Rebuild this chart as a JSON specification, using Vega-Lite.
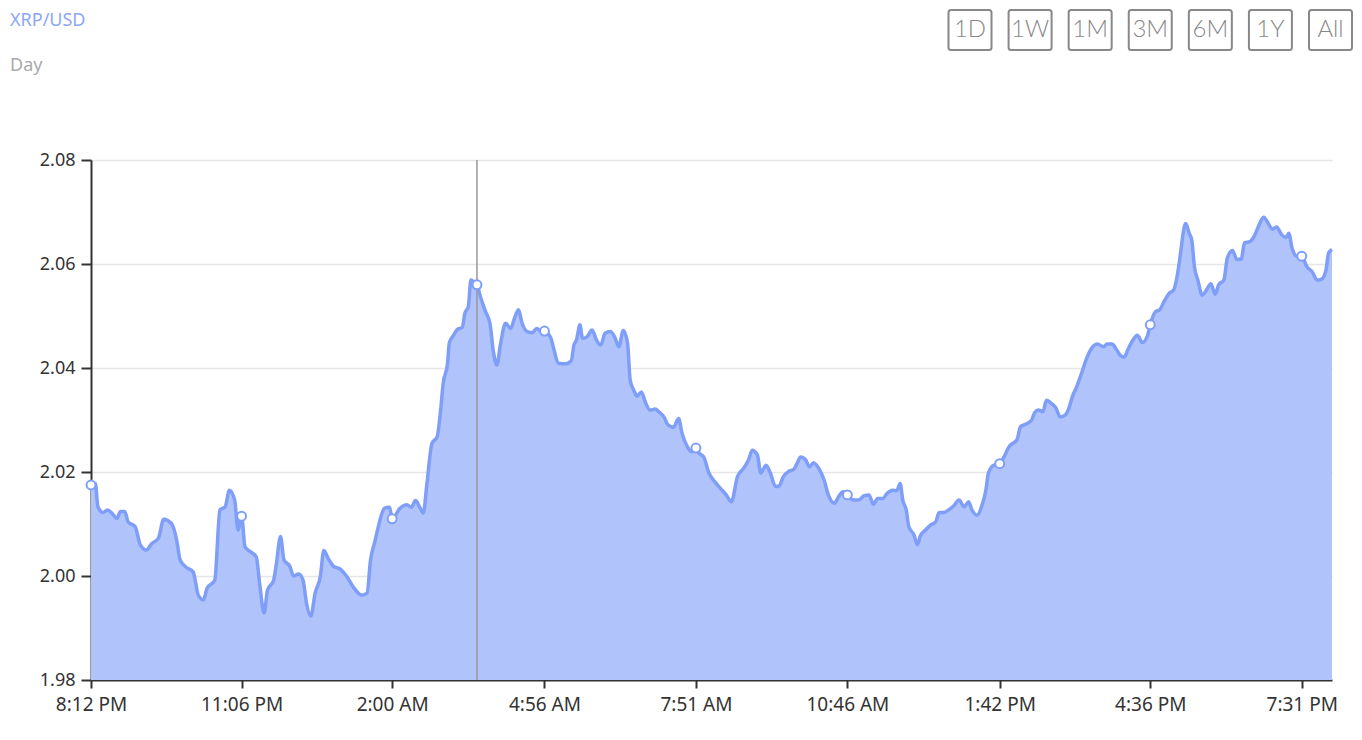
{
  "$schema": "https://vega.github.io/schema/vega-lite/v6.json",
  "width": 1241,
  "height": 520,
  "autosize": {"type": "none"},
  "padding": {"left": 91, "top": 160, "right": 30, "bottom": 60},
  "background": "white",
  "config": {"view": {"stroke": null}},
  "title": {
    "text": "XRP/USD",
    "subtitle": "Day",
    "anchor": "start",
    "frame": "group",
    "dx": -81,
    "dy": 69,
    "offset": 0,
    "font": "Noto Sans",
    "fontSize": 18,
    "fontWeight": "normal",
    "color": "#8ca6f8",
    "subtitleFont": "Noto Sans",
    "subtitleFontSize": 18,
    "subtitleColor": "#aaaaaa",
    "subtitlePadding": 27
  },
  "datasets": {
    "price": [
      {"m":0,"v":2.0175},{"m":5,"v":2.0178},{"m":8,"v":2.0133},{"m":14,"v":2.0122},{"m":19,"v":2.0127},{"m":24,"v":2.0121},{"m":30,"v":2.0111},{"m":34,"v":2.0124},{"m":39,"v":2.0124},{"m":43,"v":2.0104},{"m":51,"v":2.0095},{"m":57,"v":2.0060},{"m":64,"v":2.0050},{"m":70,"v":2.0062},{"m":78,"v":2.0073},{"m":84,"v":2.0109},{"m":93,"v":2.0101},{"m":99,"v":2.0069},{"m":103,"v":2.0031},{"m":109,"v":2.0018},{"m":118,"v":2.0008},{"m":124,"v":1.9963},{"m":130,"v":1.9954},{"m":134,"v":1.9976},{"m":143,"v":1.9992},{"m":149,"v":2.0127},{"m":155,"v":2.0133},{"m":160,"v":2.0165},{"m":166,"v":2.0146},{"m":170,"v":2.0088},{"m":174,"v":2.0115},{"m":178,"v":2.0056},{"m":184,"v":2.0047},{"m":191,"v":2.0037},{"m":195,"v":1.9983},{"m":200,"v":1.9929},{"m":204,"v":1.9973},{"m":211,"v":1.9992},{"m":214,"v":2.0021},{"m":219,"v":2.0076},{"m":223,"v":2.0031},{"m":230,"v":2.0018},{"m":234,"v":2.0000},{"m":240,"v":2.0004},{"m":245,"v":1.9992},{"m":249,"v":1.9948},{"m":254,"v":1.9923},{"m":259,"v":1.9967},{"m":265,"v":1.9999},{"m":269,"v":2.0049},{"m":274,"v":2.0034},{"m":280,"v":2.0019},{"m":288,"v":2.0013},{"m":296,"v":1.9998},{"m":303,"v":1.9979},{"m":313,"v":1.9963},{"m":319,"v":1.9967},{"m":323,"v":2.0031},{"m":328,"v":2.0066},{"m":332,"v":2.0095},{"m":339,"v":2.0130},{"m":345,"v":2.0132},{"m":348,"v":2.0110},{"m":357,"v":2.0130},{"m":365,"v":2.0137},{"m":370,"v":2.0132},{"m":375,"v":2.0145},{"m":380,"v":2.0132},{"m":384,"v":2.0121},{"m":388,"v":2.0175},{"m":394,"v":2.0255},{"m":400,"v":2.0268},{"m":404,"v":2.0319},{"m":407,"v":2.0371},{"m":412,"v":2.0409},{"m":414,"v":2.0448},{"m":419,"v":2.0463},{"m":423,"v":2.0474},{"m":429,"v":2.0478},{"m":432,"v":2.0505},{"m":436,"v":2.0518},{"m":439,"v":2.0569},{"m":442,"v":2.0566},{"m":446,"v":2.0560},{"m":450,"v":2.0537},{"m":456,"v":2.0508},{"m":461,"v":2.0486},{"m":465,"v":2.0431},{"m":469,"v":2.0406},{"m":473,"v":2.0444},{"m":479,"v":2.0486},{"m":485,"v":2.0476},{"m":489,"v":2.0494},{"m":494,"v":2.0512},{"m":498,"v":2.0487},{"m":504,"v":2.0470},{"m":510,"v":2.0468},{"m":515,"v":2.0476},{"m":519,"v":2.0472},{"m":524,"v":2.0471},{"m":531,"v":2.0459},{"m":535,"v":2.0435},{"m":540,"v":2.0409},{"m":548,"v":2.0408},{"m":555,"v":2.0414},{"m":558,"v":2.0444},{"m":561,"v":2.0454},{"m":565,"v":2.0483},{"m":568,"v":2.0457},{"m":573,"v":2.0460},{"m":579,"v":2.0473},{"m":584,"v":2.0454},{"m":589,"v":2.0444},{"m":594,"v":2.0467},{"m":600,"v":2.0470},{"m":605,"v":2.0460},{"m":610,"v":2.0441},{"m":615,"v":2.0472},{"m":620,"v":2.0448},{"m":623,"v":2.0377},{"m":627,"v":2.0358},{"m":631,"v":2.0346},{"m":636,"v":2.0354},{"m":641,"v":2.0332},{"m":646,"v":2.0319},{"m":652,"v":2.0321},{"m":656,"v":2.0316},{"m":662,"v":2.0306},{"m":667,"v":2.0290},{"m":673,"v":2.0286},{"m":679,"v":2.0303},{"m":683,"v":2.0274},{"m":689,"v":2.0249},{"m":694,"v":2.0239},{"m":699,"v":2.0246},{"m":703,"v":2.0236},{"m":708,"v":2.0229},{"m":714,"v":2.0198},{"m":721,"v":2.0181},{"m":727,"v":2.0169},{"m":734,"v":2.0156},{"m":740,"v":2.0143},{"m":747,"v":2.0191},{"m":754,"v":2.0207},{"m":760,"v":2.0224},{"m":764,"v":2.0242},{"m":770,"v":2.0233},{"m":774,"v":2.0198},{"m":780,"v":2.0213},{"m":785,"v":2.0198},{"m":791,"v":2.0172},{"m":795,"v":2.0173},{"m":800,"v":2.0191},{"m":806,"v":2.0201},{"m":812,"v":2.0205},{"m":816,"v":2.0217},{"m":820,"v":2.0229},{"m":826,"v":2.0223},{"m":830,"v":2.0210},{"m":835,"v":2.0218},{"m":841,"v":2.0207},{"m":847,"v":2.0185},{"m":852,"v":2.0156},{"m":859,"v":2.0140},{"m":864,"v":2.0153},{"m":869,"v":2.0162},{"m":874,"v":2.0156},{"m":881,"v":2.0146},{"m":887,"v":2.0146},{"m":893,"v":2.0154},{"m":899,"v":2.0156},{"m":904,"v":2.0138},{"m":909,"v":2.0149},{"m":915,"v":2.0149},{"m":920,"v":2.0159},{"m":926,"v":2.0165},{"m":931,"v":2.0164},{"m":935,"v":2.0178},{"m":938,"v":2.0146},{"m":942,"v":2.0127},{"m":945,"v":2.0095},{"m":951,"v":2.0079},{"m":955,"v":2.0060},{"m":958,"v":2.0076},{"m":964,"v":2.0088},{"m":970,"v":2.0098},{"m":976,"v":2.0104},{"m":980,"v":2.0122},{"m":985,"v":2.0122},{"m":991,"v":2.0127},{"m":997,"v":2.0135},{"m":1003,"v":2.0146},{"m":1009,"v":2.0133},{"m":1014,"v":2.0143},{"m":1018,"v":2.0127},{"m":1024,"v":2.0117},{"m":1029,"v":2.0133},{"m":1034,"v":2.0165},{"m":1037,"v":2.0198},{"m":1043,"v":2.0213},{"m":1050,"v":2.0216},{"m":1055,"v":2.0229},{"m":1061,"v":2.0249},{"m":1065,"v":2.0255},{"m":1070,"v":2.0262},{"m":1074,"v":2.0287},{"m":1080,"v":2.0292},{"m":1087,"v":2.0300},{"m":1090,"v":2.0313},{"m":1095,"v":2.0319},{"m":1100,"v":2.0316},{"m":1104,"v":2.0338},{"m":1109,"v":2.0333},{"m":1115,"v":2.0323},{"m":1120,"v":2.0306},{"m":1126,"v":2.0310},{"m":1130,"v":2.0323},{"m":1134,"v":2.0345},{"m":1139,"v":2.0364},{"m":1144,"v":2.0387},{"m":1149,"v":2.0412},{"m":1155,"v":2.0435},{"m":1163,"v":2.0446},{"m":1170,"v":2.0441},{"m":1174,"v":2.0446},{"m":1180,"v":2.0446},{"m":1184,"v":2.0438},{"m":1189,"v":2.0425},{"m":1194,"v":2.0421},{"m":1198,"v":2.0435},{"m":1203,"v":2.0451},{"m":1209,"v":2.0463},{"m":1215,"v":2.0449},{"m":1221,"v":2.0463},{"m":1224,"v":2.0483},{"m":1230,"v":2.0508},{"m":1235,"v":2.0512},{"m":1240,"v":2.0528},{"m":1246,"v":2.0544},{"m":1251,"v":2.0550},{"m":1255,"v":2.0576},{"m":1259,"v":2.0621},{"m":1262,"v":2.0659},{"m":1265,"v":2.0678},{"m":1269,"v":2.0659},{"m":1272,"v":2.0646},{"m":1275,"v":2.0595},{"m":1279,"v":2.0569},{"m":1284,"v":2.0540},{"m":1289,"v":2.0550},{"m":1294,"v":2.0562},{"m":1299,"v":2.0542},{"m":1303,"v":2.0560},{"m":1309,"v":2.0569},{"m":1313,"v":2.0611},{"m":1319,"v":2.0626},{"m":1324,"v":2.0609},{"m":1329,"v":2.0609},{"m":1333,"v":2.0641},{"m":1339,"v":2.0643},{"m":1344,"v":2.0653},{"m":1349,"v":2.0672},{"m":1355,"v":2.0690},{"m":1360,"v":2.0679},{"m":1365,"v":2.0667},{"m":1370,"v":2.0671},{"m":1376,"v":2.0656},{"m":1381,"v":2.0651},{"m":1384,"v":2.0659},{"m":1388,"v":2.0630},{"m":1394,"v":2.0614},{"m":1399,"v":2.0615},{"m":1405,"v":2.0595},{"m":1411,"v":2.0585},{"m":1417,"v":2.0569},{"m":1422,"v":2.0571},{"m":1427,"v":2.0588},{"m":1430,"v":2.0621},{"m":1434,"v":2.0628}
    ],
    "buttons": [
      {"label":"1D"},{"label":"1W"},{"label":"1M"},{"label":"3M"},{"label":"6M"},{"label":"1Y"},{"label":"All"}
    ],
    "hover": [{"m":446}]
  },
  "layer": [
    {
      "data": {"name": "price"},
      "encoding": {
        "x": {
          "field": "m",
          "type": "quantitative",
          "scale": {"domain": [0, 1434], "nice": false, "zero": false},
          "axis": {
            "title": null,
            "values": [0, 174, 348, 524, 699, 874, 1050, 1224, 1399],
            "labelExpr": "timeFormat(datetime(2025, 0, 1, 20, 12 + datum.value), '%-I:%M %p')",
            "grid": false,
            "domainColor": "#333333",
            "domainWidth": 2,
            "tickColor": "#333333",
            "tickWidth": 2,
            "tickSize": 8,
            "labelPadding": 7,
            "labelFont": "Noto Sans",
            "labelFontSize": 19,
            "labelColor": "#333333",
            "labelFlush": false,
            "labelOverlap": false
          }
        },
        "y": {
          "field": "v",
          "type": "quantitative",
          "scale": {"domain": [1.98, 2.08], "nice": false, "zero": false},
          "axis": {
            "title": null,
            "values": [1.98, 2.0, 2.02, 2.04, 2.06, 2.08],
            "format": ".2f",
            "grid": true,
            "gridColor": "#e6e6e6",
            "gridWidth": 1.5,
            "domainColor": "#333333",
            "domainWidth": 2,
            "tickColor": "#333333",
            "tickWidth": 2,
            "tickSize": 10,
            "labelPadding": 6,
            "labelFont": "Noto Sans",
            "labelFontSize": 18,
            "labelColor": "#333333"
          }
        }
      },
      "layer": [
        {
          "mark": {
            "type": "area",
            "interpolate": "monotone",
            "color": "#b0c3fa",
            "opacity": 1,
            "line": {"color": "#7f9ef8", "strokeWidth": 3.5}
          },
          "encoding": {"y2": {"datum": 1.98}}
        },
        {
          "data": {"name": "hover"},
          "mark": {"type": "rule", "color": "#999999", "strokeWidth": 1.5},
          "encoding": {"x": {"field": "m", "type": "quantitative"}, "y": null}
        },
        {
          "transform": [{"filter": {"field": "m", "oneOf": [0, 174, 348, 446, 524, 699, 874, 1050, 1224, 1399]}}],
          "mark": {"type": "point", "filled": true, "fill": "white", "stroke": "#7f9ef8", "strokeWidth": 2, "size": 80, "opacity": 1}
        }
      ]
    },
    {
      "data": {"name": "buttons"},
      "encoding": {
        "x": {
          "field": "label",
          "type": "nominal",
          "sort": null,
          "scale": {"type": "point", "padding": 0, "domain": ["1D","1W","1M","3M","6M","1Y","All"], "range": [879, 1239.5]},
          "axis": null
        },
        "y": {
          "datum": "row",
          "type": "nominal",
          "scale": {"type": "point", "padding": 0, "domain": ["row"], "range": [-130, -130]},
          "axis": null
        }
      },
      "layer": [
        {
          "mark": {
            "type": "point",
            "shape": "M -0.88,-0.93 H 0.88 Q 1,-0.93 1,-0.81 V 0.81 Q 1,0.93 0.88,0.93 H -0.88 Q -1,0.93 -1,0.81 V -0.81 Q -1,-0.93 -0.88,-0.93 Z",
            "size": 1849,
            "filled": false,
            "stroke": "#888888",
            "strokeWidth": 2,
            "opacity": 1
          }
        },
        {
          "mark": {
            "type": "text",
            "font": "Lato",
            "fontWeight": 300,
            "fontSize": 24,
            "color": "#888888",
            "align": "center",
            "baseline": "middle"
          },
          "encoding": {"text": {"field": "label"}}
        }
      ]
    }
  ],
  "resolve": {"scale": {"x": "independent", "y": "independent"}}
}
